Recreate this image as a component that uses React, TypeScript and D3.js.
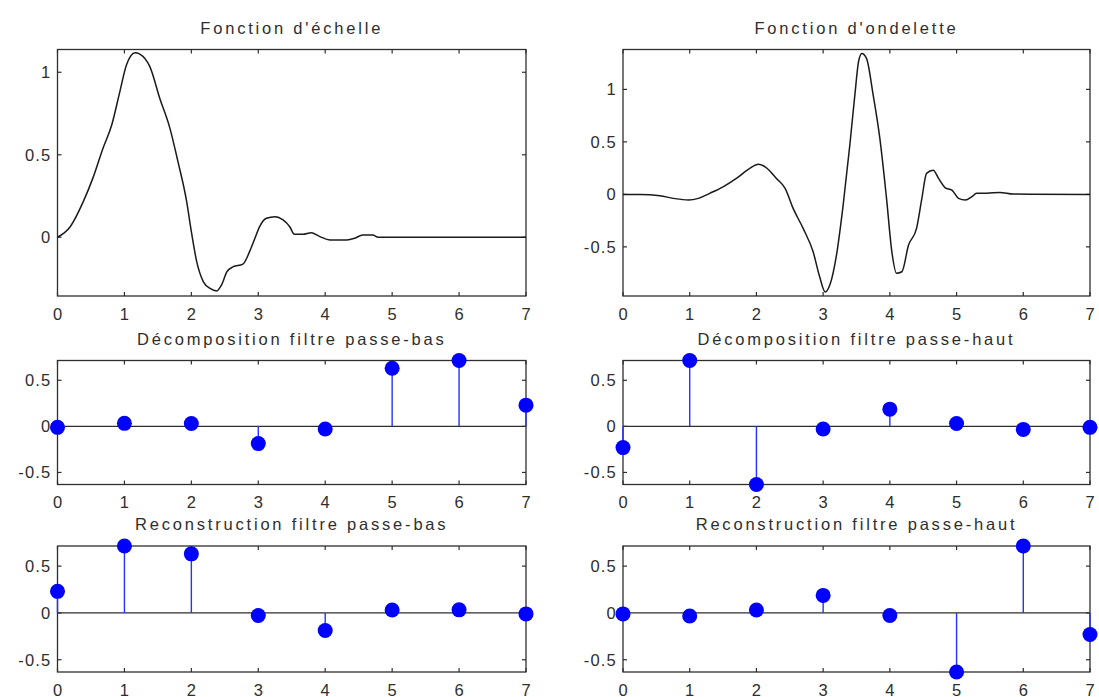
import React from 'react';
import * as d3 from 'd3';

// x positions shared by every panel
const xTicks = [0, 1, 2, 3, 4, 5, 6, 7];
const taps = [0, 1, 2, 3, 4, 5, 6, 7];

// scaling function
const phiX = [0, 0.19, 0.385, 0.53, 0.68, 0.81, 0.93, 1.03, 1.16, 1.23, 1.38, 1.53, 1.68, 1.8, 1.93, 2.0,
  2.08, 2.18, 2.28, 2.38, 2.45, 2.53, 2.62, 2.77, 2.87, 2.95, 3.02, 3.12, 3.25, 3.37, 3.47, 3.54, 3.67,
  3.79, 3.92, 4.07, 4.32, 4.44, 4.56, 4.71, 4.79, 7];
const phiY = [0, 0.064, 0.216, 0.36, 0.54, 0.68, 0.88, 1.044, 1.118, 1.11, 1.034, 0.84, 0.66, 0.458, 0.216, 0.034,
  -0.148, -0.27, -0.31, -0.325, -0.29, -0.21, -0.18, -0.163, -0.087, -0.006, 0.064, 0.115, 0.125, 0.105, 0.064, 0.018, 0.018,
  0.028, 0.004, -0.016, -0.016, -0.006, 0.014, 0.014, 0, 0];

// wavelet function
const psiX = [0, 0.255, 0.555, 0.755, 0.98, 1.13, 1.3, 1.5, 1.7, 1.9, 2.03, 2.13, 2.3, 2.43, 2.55, 2.7, 2.85,
  2.95, 3.03, 3.1, 3.2, 3.3, 3.4, 3.48, 3.53, 3.58, 3.65, 3.75, 3.85, 3.95, 4.03, 4.1, 4.18, 4.28, 4.4,
  4.48, 4.55, 4.65, 4.73, 4.83, 4.93, 5.03, 5.13, 5.23, 5.3, 5.45, 5.65, 5.85, 7];
const psiY = [0, 0, -0.013, -0.038, -0.054, -0.038, 0.01, 0.072, 0.152, 0.248, 0.286, 0.263, 0.152, 0.057, -0.133, -0.324, -0.547,
  -0.79, -0.93, -0.864, -0.578, -0.102, 0.47, 0.977, 1.263, 1.343, 1.295, 0.946, 0.533, -0.038, -0.547, -0.752, -0.737, -0.483, -0.324,
  -0.038, 0.2, 0.231, 0.152, 0.063, 0.041, -0.038, -0.054, -0.022, 0.01, 0.01, 0.019, 0.003, 0];

// filters
const loD = [-0.0106, 0.0329, 0.0308, -0.187, -0.028, 0.6309, 0.7148, 0.2304];
const hiD = [-0.2304, 0.7148, -0.6309, -0.028, 0.187, 0.0308, -0.0329, -0.0106];
const loR = [0.2304, 0.7148, 0.6309, -0.028, -0.187, 0.0308, 0.0329, -0.0106];
const hiR = [-0.0106, -0.0329, 0.0308, 0.187, -0.028, -0.6309, 0.7148, -0.2304];

const ticksTopLeft = [0, 0.5, 1];
const ticksTopRight = [-0.5, 0, 0.5, 1];
const ticksStem = [-0.5, 0, 0.5];

const font = 'Arial, "Liberation Sans", Helvetica, sans-serif';
const ink = '#2e2e2e';
const fs = 16.5;

type Box = { x0: number; x1: number; top: number; bottom: number };

function Frame({ box, y, yTicks, title }: { box: Box; y: d3.ScaleLinear<number, number>; yTicks: number[]; title: string }) {
  const x = d3.scaleLinear().domain([0, 7]).range([box.x0, box.x1]);
  const tl = 4;
  return (
    <g>
      <rect x={box.x0} y={box.top} width={box.x1 - box.x0} height={box.bottom - box.top}
        fill="none" stroke={ink} strokeWidth={1.3} />
      {xTicks.map((t) => (
        <g key={'x' + t}>
          <line x1={x(t)} x2={x(t)} y1={box.bottom} y2={box.bottom - tl} stroke={ink} strokeWidth={1.2} />
          <line x1={x(t)} x2={x(t)} y1={box.top} y2={box.top + tl} stroke={ink} strokeWidth={1.2} />
          <text x={x(t)} y={box.bottom + 23.5} textAnchor="middle" fontSize={fs} fill={ink} fontFamily={font}>{t}</text>
        </g>
      ))}
      {yTicks.map((t) => (
        <g key={'y' + t}>
          <line x1={box.x0} x2={box.x0 + tl} y1={y(t)} y2={y(t)} stroke={ink} strokeWidth={1.2} />
          <line x1={box.x1} x2={box.x1 - tl} y1={y(t)} y2={y(t)} stroke={ink} strokeWidth={1.2} />
          <text x={box.x0 - 6} y={y(t) + 6} textAnchor="end" fontSize={fs} letterSpacing={1.2} fill={ink} fontFamily={font}>{t}</text>
        </g>
      ))}
      <text x={(box.x0 + box.x1) / 2} y={box.top - 16} textAnchor="middle" fontSize={fs} letterSpacing={2.8}
        fill={ink} fontFamily={font}>{title}</text>
    </g>
  );
}

function CurvePanel({ box, domain, xs, ys, yTicks, title }: { box: Box; domain: [number, number]; xs: number[]; ys: number[]; yTicks: number[]; title: string }) {
  const x = d3.scaleLinear().domain([0, 7]).range([box.x0, box.x1]);
  const y = d3.scaleLinear().domain(domain).range([box.bottom, box.top]);
  const line = d3.line<number>().x((_, i) => x(xs[i])).y((d) => y(d)).curve(d3.curveMonotoneX);
  return (
    <g>
      <Frame box={box} y={y} yTicks={yTicks} title={title} />
      <path d={line(ys) || ''} fill="none" stroke="#1a1a1a" strokeWidth={1.5} />
    </g>
  );
}

function StemPanel({ box, values, title }: { box: Box; values: number[]; title: string }) {
  const x = d3.scaleLinear().domain([0, 7]).range([box.x0, box.x1]);
  const y = d3.scaleLinear().domain([-0.6309, 0.7148]).range([box.bottom, box.top]);
  return (
    <g>
      <Frame box={box} y={y} yTicks={ticksStem} title={title} />
      <line x1={box.x0} x2={box.x1} y1={y(0)} y2={y(0)} stroke={ink} strokeWidth={1.3} />
      {values.map((v, i) => (
        <g key={i}>
          <line x1={x(taps[i])} x2={x(taps[i])} y1={y(0)} y2={y(v)} stroke="#2233ff" strokeWidth={1.4} />
          <circle cx={x(taps[i])} cy={y(v)} r={7.5} fill="#0000ff" />
        </g>
      ))}
    </g>
  );
}

export default function App() {
  const L = { x0: 57.5, x1: 526 };
  const R = { x0: 623, x1: 1090 };
  const top = { top: 49.5, bottom: 296 };
  const mid = { top: 360.5, bottom: 484.5 };
  const bot = { top: 546, bottom: 672 };
  return (
    <svg width={1099} height={697} style={{ position: 'absolute', left: 0, top: 0, background: '#fff' }}>
      <rect width={1099} height={697} fill="#fff" />
      <CurvePanel box={{ ...L, ...top }} domain={[-0.356, 1.138]} xs={phiX} ys={phiY} yTicks={ticksTopLeft} title="Fonction d'échelle" />
      <CurvePanel box={{ ...R, ...top }} domain={[-0.968, 1.38]} xs={psiX} ys={psiY} yTicks={ticksTopRight} title="Fonction d'ondelette" />
      <StemPanel box={{ ...L, ...mid }} values={loD} title="Décomposition filtre passe-bas" />
      <StemPanel box={{ ...R, ...mid }} values={hiD} title="Décomposition filtre passe-haut" />
      <StemPanel box={{ ...L, ...bot }} values={loR} title="Reconstruction filtre passe-bas" />
      <StemPanel box={{ ...R, ...bot }} values={hiR} title="Reconstruction filtre passe-haut" />
    </svg>
  );
}
